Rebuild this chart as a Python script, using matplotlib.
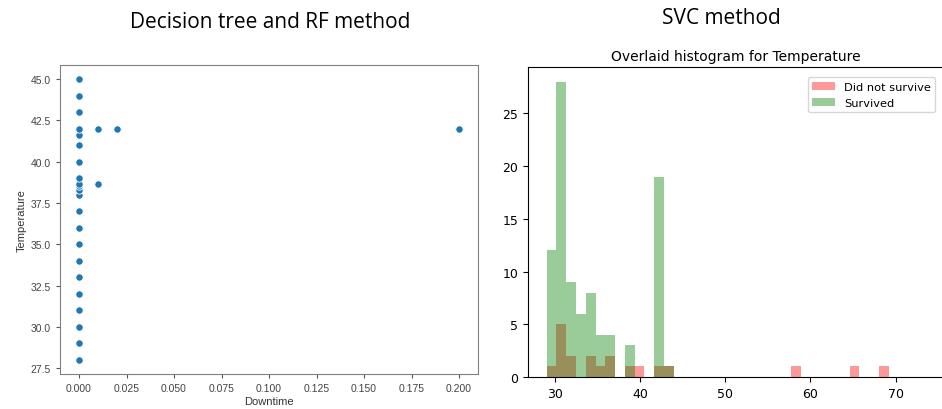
"""
Two panels side by side: scatter of Downtime vs Temperature (left)
and overlaid Temperature histogram by survival class (right).
"""
import matplotlib.pyplot as plt
import numpy as np

# --- left panel data (scatter) ---
downtime = [0, 0, 0, 0, 0, 0, 0, 0, 0, 0, 0, 0, 0, 0, 0, 0, 0, 0, 0, 0, 0, 0,
            0.01, 0.01, 0.02, 0.2]
temperature = [28, 29, 30, 31, 32, 33, 34, 35, 36, 37, 38, 38.3, 38.5, 38.65,
               39, 40, 41, 41.6, 42, 43, 44, 45,
               42, 38.65, 42, 42]

# --- right panel data (histogram counts per bin) ---
bin_edges = np.linspace(29.0, 69.2, 36)
not_survived_counts = [1, 5, 2, 0, 2, 1, 2, 0, 1, 1, 0, 1, 1, 0, 0, 0, 0, 0,
                       0, 0, 0, 0, 0, 0, 0, 1, 0, 0, 0, 0, 0, 1, 0, 0, 1]
survived_counts = [12, 28, 9, 6, 8, 4, 4, 0, 3, 0, 0, 19, 1, 0, 0, 0, 0, 0,
                   0, 0, 0, 0, 0, 0, 0, 0, 0, 0, 0, 0, 0, 0, 0, 0, 0]

W, H = 942, 410
fig = plt.figure(figsize=(W / 100, H / 100), dpi=100)


def box(x0, y0, x1, y1):
    return [x0 / W, 1 - y1 / H, (x1 - x0) / W, (y1 - y0) / H]


# big headings
fig.text(270 / W, 1 - 23 / H, 'Decision tree and RF method', ha='center',
         va='center', fontsize=15, family='Open Sans')
fig.text(721 / W, 1 - 18 / H, 'SVC method', ha='center', va='center',
         fontsize=15, family='Open Sans')

# left: seaborn-like scatter
ax1 = fig.add_axes(box(60, 66, 478, 375))
ax1.scatter(downtime, temperature, s=28, color='#1f77b4', edgecolor='white',
            linewidth=0.6, zorder=3)
for s in ax1.spines.values():
    s.set_color('#808080')
ax1.tick_params(labelsize=7.5, length=3, width=0.8, color='#555555',
                labelcolor='#444444', labelfontfamily='Liberation Sans')
ax1.set_xlabel('Downtime', fontsize=8, family='Liberation Sans',
               color='#333333', labelpad=2)
ax1.set_ylabel('Temperature', fontsize=8, family='Liberation Sans',
               color='#333333', labelpad=3)
ax1.set_xticks(np.arange(0, 0.201, 0.025))
ax1.set_yticks(np.arange(27.5, 45.1, 2.5))

# right: overlaid histogram
ax2 = fig.add_axes(box(528, 68, 944, 378))
centers = (bin_edges[:-1] + bin_edges[1:]) / 2
ax2.hist(centers, bins=bin_edges, weights=not_survived_counts, color='red',
         alpha=0.4, label='Did not survive')
ax2.hist(centers, bins=bin_edges, weights=survived_counts, color='green',
         alpha=0.4, label='Survived')
ax2.set_xlim(26.8, 75.7)
ax2.set_ylim(0, 29.4)
ax2.set_xticks([30, 40, 50, 60, 70])
ax2.set_yticks([0, 5, 10, 15, 20, 25])
ax2.tick_params(labelsize=9)
ax2.set_title('Overlaid histogram for Temperature', fontsize=10, pad=5)
ax2.legend(loc='upper right', fontsize=8.2, bbox_to_anchor=(0.993, 0.985))

fig.savefig('out.png', dpi=100)
